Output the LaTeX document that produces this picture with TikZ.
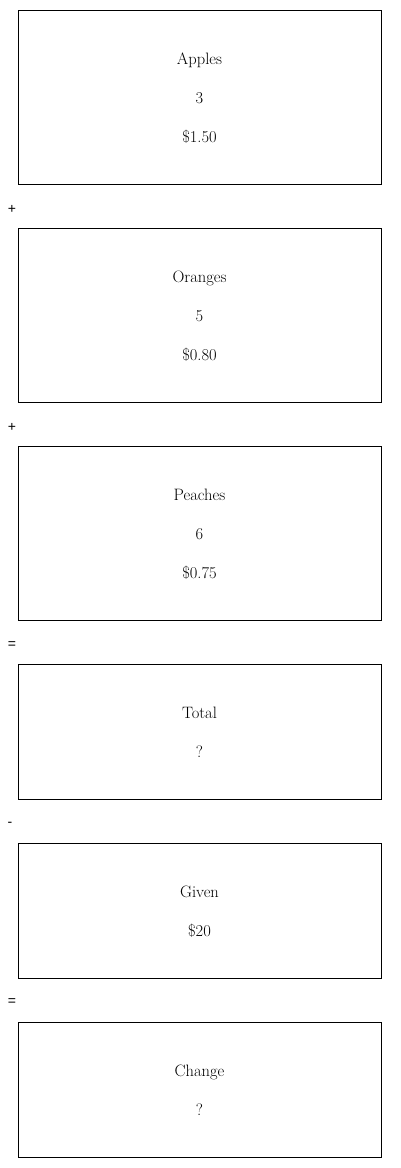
\documentclass[tikz,border=0pt]{standalone}
\usepackage{fontspec}
\newfontfamily\opfont{Liberation Sans}
\begin{document}
\begin{tikzpicture}[x=1pt,y=-1pt,
  itembox/.style={draw=black, line width=1pt, minimum width=363pt, inner sep=0pt},
  itemtext/.style={inner sep=0pt, align=center, font=\fontsize{16.5}{39}\selectfont},
  opsign/.style={font=\opfont\fontsize{14}{14}\selectfont, inner sep=0pt}]
\useasboundingbox (0,0) rectangle (400,1168);
\node[itembox, minimum height=174pt] (apples) at (199.5,97) {};
\node[itembox, minimum height=174pt] (oranges) at (199.5,315) {};
\node[itembox, minimum height=174pt] (peaches) at (199.5,533) {};
\node[itembox, minimum height=135pt] (total) at (199.5,731.5) {};
\node[itembox, minimum height=135pt] (given) at (199.5,910.5) {};
\node[itembox, minimum height=135pt] (change) at (199.5,1089.5) {};
\node[itemtext] (applestext) at ([yshift=-1pt]apples.center) {Apples\\3\\\$1.50};
\node[itemtext] (orangestext) at ([yshift=-1pt]oranges.center) {Oranges\\5\\\$0.80};
\node[itemtext] (peachestext) at ([yshift=-1pt]peaches.center) {Peaches\\6\\\$0.75};
\node[itemtext] (totaltext) at ([yshift=-1pt]total.center) {Total\\?};
\node[itemtext] (giventext) at ([yshift=-1pt]given.center) {Given\\\$20};
\node[itemtext] (changetext) at ([yshift=-1pt]change.center) {Change\\?};
\node[opsign] (op1) at (12,209) {+};
\node[opsign] (op2) at (12,427) {+};
\node[opsign] (op3) at (12,645) {=};
\node[opsign] (op4) at (10,824) {-};
\node[opsign] (op5) at (12,1002) {=};
\end{tikzpicture}
\end{document}
